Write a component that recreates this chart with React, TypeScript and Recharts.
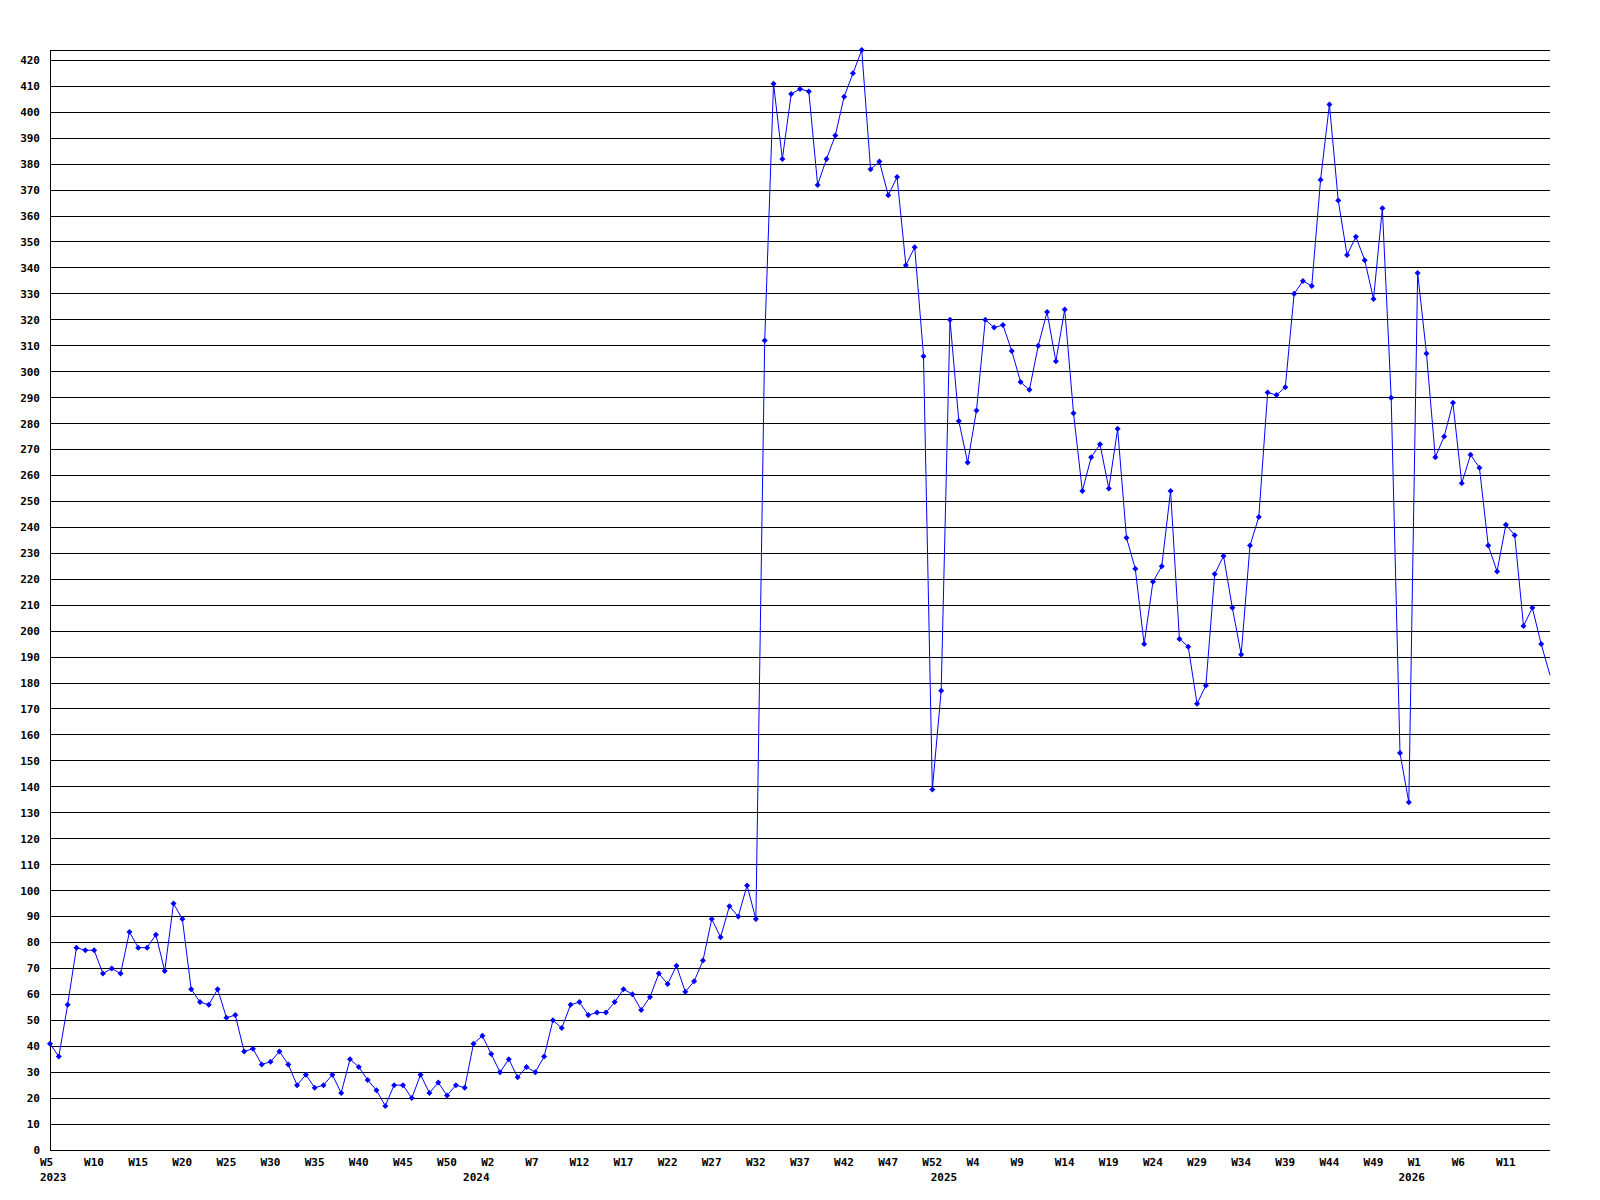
import React from "react";
import { LineChart, Line, XAxis, YAxis, CartesianGrid } from "recharts";

// weeks covered per year (the source numbers weeks 1..53)
const years = [2023, 2024, 2025, 2026];
const firstWeeks = [5, 1, 1, 1];
const lastWeeks = [53, 53, 53, 16];

const values = [
  41, 36, 56, 78, 77, 77, 68, 70, 68, 84, 78, 78, 83, 69, 95, 89, 62, 57, 56, 62, 51, 52, 38, 39, 33, 34, 38, 33, 25, 29, 24, 25, 29,
  22, 35, 32, 27, 23, 17, 25, 25, 20, 29, 22, 26, 21, 25, 24, 41, 44, 37, 30, 35, 28, 32, 30, 36, 50, 47, 56, 57, 52, 53, 53, 57, 62,
  60, 54, 59, 68, 64, 71, 61, 65, 73, 89, 82, 94, 90, 102, 89,
  312, 411, 382, 407, 409, 408, 372, 382, 391, 406, 415, 424, 378, 381, 368, 375, 341, 348, 306,
  139, 177, 320, 281, 265, 285, 320, 317, 318, 308, 296, 293, 310, 323, 304, 324, 284, 254, 267,
  272, 255, 278, 236, 224, 195, 219, 225, 254, 197, 194, 172, 179, 222, 229, 209, 191, 233, 244, 292, 291, 294,
  330, 335, 333, 374, 403, 366, 345, 352, 343, 328, 363, 290, 153, 134, 338, 307, 267, 275, 288, 257, 268, 263, 233, 223, 241, 237, 202, 209, 195, 183,
];

const yTicks = Array.from({ length: 43 }, (_, k) => k * 10);

type Row = { i: number; year: number; week: number; value: number };

const data: Row[] = [];
years.forEach((year, y) => {
  for (let w = firstWeeks[y]; w <= lastWeeks[y]; w++) {
    const i = data.length;
    data.push({ i, year, week: w, value: values[i] });
  }
});

const lastIdx = data.length - 1;
const weekTickIdx = data.filter((d) => d.i % 5 === 0 && d.i < lastIdx).map((d) => d.i);
const yearIdx = data.filter((d) => d.i === 0 || d.week === 1).map((d) => d.i);
const xTicks = Array.from(new Set([...weekTickIdx, ...yearIdx])).sort((a, b) => a - b);

const FONT = "'DejaVu Sans Mono', monospace";

const XTick = (props: any) => {
  const { x, payload } = props;
  const d = data[payload.value];
  const isWeek = payload.value % 5 === 0;
  const isYear = yearIdx.includes(payload.value);
  return (
    <g>
      {isWeek && (
        <text x={x - 10} y={1166} textAnchor="start" fontFamily={FONT} fontSize={11} fontWeight="bold" fill="#000">
          {"W" + d.week}
        </text>
      )}
      {isYear && (
        <text
          x={payload.value === 0 ? x - 10 : x - 6}
          y={1181}
          textAnchor={payload.value === 0 ? "start" : "middle"}
          fontFamily={FONT}
          fontSize={11}
          fontWeight="bold"
          fill="#000"
        >
          {d.year}
        </text>
      )}
    </g>
  );
};

const YTick = (props: any) => {
  const { y, payload } = props;
  return (
    <text x={40} y={y} dy="0.36em" textAnchor="end" fontFamily={FONT} fontSize={11} fontWeight="bold" fill="#000">
      {payload.value}
    </text>
  );
};

const Marker = (props: any) => {
  const { cx, cy, index } = props;
  if (index === lastIdx || cx == null) return <g key={`m-${index}`} />;
  return (
    <path
      key={`m-${index}`}
      d={`M${cx} ${cy - 3}L${cx + 3} ${cy}L${cx} ${cy + 3}L${cx - 3} ${cy}Z`}
      fill="#0000ff"
    />
  );
};

export default function App() {
  return (
    <div style={{ position: "absolute", left: 0, top: 0, width: 1600, height: 1200, background: "#fff" }}>
      <style>{`.recharts-cartesian-grid line, .recharts-cartesian-axis-line { shape-rendering: crispEdges; }`}</style>
      <LineChart width={1600} height={1200} data={data} margin={{ top: 50, right: 50, bottom: 10, left: 10 }}>
        <CartesianGrid vertical={false} stroke="#000" strokeOpacity={1} />
        <XAxis
          type="number"
          dataKey="i"
          domain={[0, lastIdx]}
          ticks={xTicks}
          interval={0}
          height={40}
          tickLine={false}
          axisLine={{ stroke: "#000" }}
          tick={<XTick />}
        />
        <YAxis
          type="number"
          domain={[0, 424]}
          ticks={yTicks}
          interval={0}
          width={40}
          tickLine={false}
          axisLine={{ stroke: "#000" }}
          tick={<YTick />}
        />
        <Line
          type="linear"
          dataKey="value"
          stroke="#0000ff"
          strokeWidth={1}
          dot={Marker}
          activeDot={false}
          isAnimationActive={false}
        />
      </LineChart>
    </div>
  );
}
